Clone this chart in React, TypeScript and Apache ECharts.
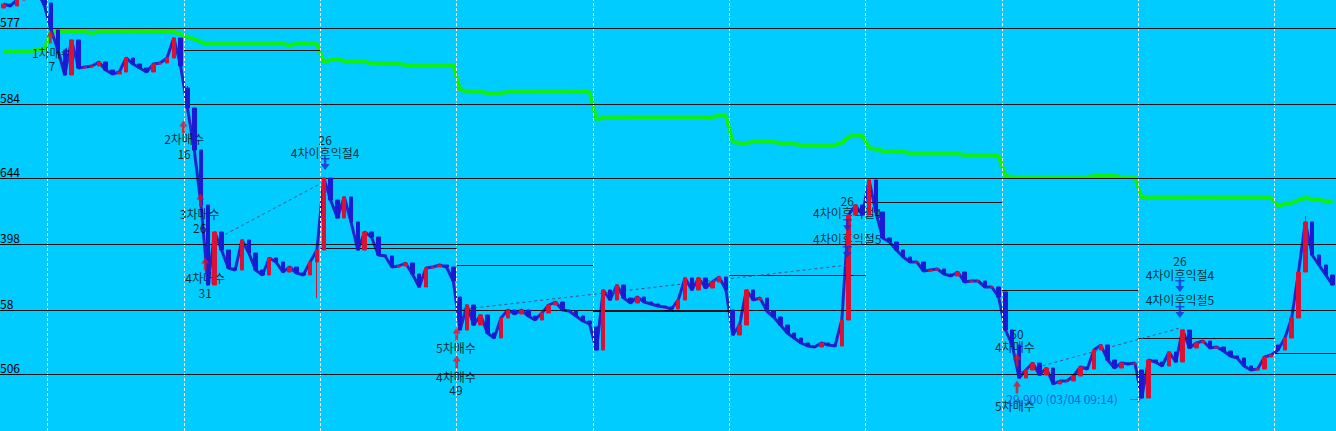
import React, { useEffect, useRef } from "react";
import * as echarts from "echarts";

// ---- price data (one bar per slot, 20 slots per day) ----
const closes = [
  // day 0 (partial)
  33840, 33820, 33880, 33980, 34000, 33960, 33830,
  // day 1
  33580, 33380, 33130, 33480, 33200, 33210, 33220, 33260, 33180, 33140, 33160, 33300, 33240, 33200, 33160, 33240, 33250, 33300, 33500, 33220,
  // day 2
  32800, 32380, 31830, 31030, 31560, 31380, 31200, 31180, 31480, 31350, 31180, 31130, 31300, 31260, 31160, 31210, 31150, 31130, 31260, 31380,
  // day 3
  32100, 31880, 31700, 31910, 31660, 31380, 31560, 31510, 31330, 31320, 31210, 31220, 31250, 31140, 31010, 31200, 31210, 31230, 31210, 31070,
  // day 4
  30580, 30830, 30630, 30730, 30550, 30500, 30700, 30780, 30740, 30780, 30720, 30680, 30750, 30830, 30860, 30780, 30770, 30720, 30670, 30640,
  // day 5
  30380, 30980, 30880, 31030, 30900, 30850, 30910, 30860, 30840, 30820, 30810, 30790, 30880, 31100, 30980, 31100, 31000, 31060, 31110, 30980,
  // day 6
  30530, 30630, 30980, 30880, 30900, 30770, 30710, 30630, 30550, 30500, 30450, 30420, 30410, 30450, 30430, 30420, 30680, 31730, 31830, 31730,
  // day 7
  32080, 31760, 31500, 31460, 31380, 31310, 31260, 31260, 31170, 31180, 31190, 31140, 31120, 31160, 31060, 31070, 31070, 31010, 31010, 30910,
  // day 8
  30580, 30430, 30100, 30180, 30250, 30130, 30200, 30040, 30070, 30070, 30120, 30210, 30190, 30380, 30430, 30280, 30200, 30250, 30240, 30250,
  // day 9
  29900, 30280, 30260, 30220, 30360, 30260, 30580, 30400, 30450, 30470, 30400, 30410, 30370, 30320, 30300, 30220, 30180, 30190, 30310, 30330,
  // day 10 (partial)
  30380, 30500, 30700, 31160, 31660, 31330, 31230, 31130, 31030,
];

const greenLine = [
  33360, 33360, 33370, 33370, 33370, 33380, 33380,
  33570, 33570, 33560, 33560, 33560, 33560, 33550, 33560, 33560, 33560, 33560, 33560, 33570, 33560, 33560, 33560, 33570, 33560, 33560, 33540,
  33510, 33490, 33460, 33440, 33450, 33450, 33440, 33440, 33450, 33440, 33440, 33440, 33440, 33440, 33440, 33430, 33440, 33440, 33440, 33440,
  33260, 33280, 33290, 33270, 33260, 33260, 33260, 33250, 33250, 33240, 33240, 33240, 33230, 33230, 33230, 33230, 33230, 33230, 33230, 33230,
  32980, 32970, 32960, 32960, 32950, 32950, 32950, 32960, 32960, 32960, 32960, 32970, 32970, 32970, 32970, 32970, 32970, 32960, 32960, 32960,
  32690, 32700, 32700, 32700, 32700, 32710, 32710, 32710, 32710, 32710, 32710, 32710, 32710, 32710, 32710, 32710, 32710, 32710, 32720, 32720,
  32460, 32450, 32450, 32460, 32460, 32460, 32460, 32450, 32440, 32440, 32430, 32430, 32430, 32430, 32430, 32430, 32450, 32510, 32530, 32530,
  32400, 32390, 32370, 32370, 32360, 32360, 32350, 32350, 32350, 32340, 32340, 32340, 32340, 32340, 32330, 32330, 32330, 32330, 32330, 32320,
  32120, 32110, 32100, 32100, 32100, 32100, 32100, 32100, 32100, 32100, 32110, 32110, 32110, 32120, 32120, 32120, 32120, 32110, 32110, 32110,
  31900, 31900, 31900, 31900, 31900, 31900, 31900, 31910, 31910, 31910, 31910, 31910, 31900, 31900, 31900, 31900, 31900, 31900, 31900, 31900,
  31820, 31840, 31850, 31880, 31900, 31890, 31880, 31870, 31860,
];

const dayStarts = [0, 7, 27, 47, 67, 87, 107, 127, 147, 167, 187];
const dayOpens = [33800, 33850, 33000, 31380, 30910, 30610, 30780, 31730, 30960, 30180, 30430];
const wickLows: [number, number][] = [[46, 30900]];
const wickHighs: [number, number][] = [[27, 33020], [191, 31720]];

const levelValues = [33600, 32840, 32100, 31440, 30780, 30140];
const levelLabels = ["577", "584", "644", "398", "58", "506"];

// per-day reference segments (day index -> level)
const segmentDays = [2, 3, 4, 5, 6, 7, 8, 9, 10];
const segmentValues = [33380, 31400, 31230, 30770, 31130, 31860, 30980, 30500, 30350];

// dashed connectors [x1, y1, x2, y2]
const connectors = [
  [31.5, 31480, 47.2, 32050],
  [67.0, 30780, 124.4, 31230],
  [149.6, 30160, 173.1, 30600],
];

const signalTexts: { x: number; y: number; t: string; blue?: boolean }[] = [
  { x: 7.6, y: 33360, t: "1차매수" }, { x: 7.6, y: 33230, t: "7" },
  { x: 27.0, y: 32500, t: "2차매수" }, { x: 27.0, y: 32350, t: "16" },
  { x: 29.3, y: 31750, t: "3차매수" }, { x: 29.3, y: 31610, t: "26" },
  { x: 30.1, y: 31110, t: "4차매수" }, { x: 30.1, y: 30960, t: "31" },
  { x: 47.7, y: 32490, t: "26" }, { x: 47.7, y: 32360, t: "4차이후익절4" },
  { x: 66.9, y: 30410, t: "5차매수" }, { x: 66.9, y: 30120, t: "4차매수" }, { x: 66.9, y: 29990, t: "49" },
  { x: 124.3, y: 31880, t: "26" }, { x: 124.3, y: 31760, t: "4차이후익절4" }, { x: 124.3, y: 31500, t: "4차이후익절5" },
  { x: 149.2, y: 30550, t: "50" }, { x: 148.9, y: 30420, t: "4차매수" }, { x: 148.9, y: 29830, t: "5차매수" },
  { x: 155.8, y: 29900, t: "29,900 (03/04 09:14)", blue: true }, { x: 166.6, y: 29885, t: "→", blue: true },
  { x: 173.1, y: 31280, t: "26" }, { x: 173.1, y: 31140, t: "4차이후익절4" }, { x: 173.1, y: 30890, t: "4차이후익절5" },
];

const buyArrows = [
  [7.4, 33510], [26.9, 32610], [29.4, 31880], [30.1, 31240],
  [67.0, 30540], [67.0, 30260], [149.2, 30280], [149.2, 30010],
];
const sellArrows = [
  [47.7, 32240], [124.3, 31630], [124.3, 31360], [173.1, 31020], [173.1, 30760],
];

const UP_ARROW = "path://M3.5,0 L7,5 L4.7,5 L4.7,11 L2.3,11 L2.3,5 L0,5 Z";
const DOWN_ARROW = "path://M0,0 L9,0 L9,1.6 L0,1.6 Z M3.3,1.6 L5.7,1.6 L5.7,6 L9,6 L4.5,12 L0,6 L3.3,6 Z";
const FONT = "'Noto Sans CJK KR', 'Noto Sans', sans-serif";

export default function App() {
  const ref = useRef<HTMLDivElement>(null);
  useEffect(() => {
    document.body.style.margin = "0";
    if (!ref.current) return;
    const chart = echarts.init(ref.current, undefined, { renderer: "svg" });
    const total = closes.length;
    const cats = closes.map((_, i) => String(i));
    const candles = closes.map((c, i) => {
      const d = dayStarts.indexOf(i);
      const o = d >= 0 ? dayOpens[d] : closes[i - 1];
      let lo = Math.min(o, c);
      let hi = Math.max(o, c);
      wickLows.forEach(([b, v]) => { if (b === i) lo = Math.min(lo, v); });
      wickHighs.forEach(([b, v]) => { if (b === i) hi = Math.max(hi, v); });
      return [o, c, lo, hi];
    });

    const dayLines = dayStarts.slice(1).map((s) => ({
      xAxis: s,
      lineStyle: { color: "#ffffff", width: 1, type: [3, 2] },
      label: { show: false },
    }));
    const levels = levelValues.map((v, i) => ({
      yAxis: v,
      lineStyle: { color: "#101018", width: 1, type: "solid" },
      label: {
        show: true,
        formatter: levelLabels[i],
        position: "insideStartTop",
        distance: [0, 1],
        color: "#000000",
        fontSize: 12,
        fontFamily: FONT,
      },
    }));
    const segments = segmentDays.map((d, i) => {
      const x1 = dayStarts[d];
      const x2 = d + 1 < dayStarts.length ? dayStarts[d + 1] : total;
      return [
        { coord: [x1, segmentValues[i]], lineStyle: { color: "#101018", width: 1, type: "solid" }, label: { show: false } },
        { coord: [x2, segmentValues[i]] },
      ];
    });
    const conns = connectors.map(([a, b, c, d]) => [
      { coord: [a, b], lineStyle: { color: "#4b4b8c", width: 1, type: [3, 3] }, label: { show: false } },
      { coord: [c, d] },
    ]);

    chart.setOption({
      animation: false,
      backgroundColor: "#00ccff",
      grid: { left: 0, right: 0, top: 0, bottom: 0 },
      xAxis: [
        { type: "category", data: cats, show: false, boundaryGap: true },
        { type: "value", min: 0, max: total, show: false },
      ],
      yAxis: { type: "value", min: 29570, max: 33880, show: false, splitLine: { show: false } },
      series: [
        {
          type: "line",
          xAxisIndex: 1,
          data: [],
          silent: true,
          z: 0,
          markLine: {
            silent: true,
            symbol: ["none", "none"],
            label: { show: false },
            data: [...dayLines, ...levels, ...segments, ...conns],
          },
        },
        {
          type: "line",
          data: greenLine,
          showSymbol: false,
          z: 2,
          lineStyle: { color: "#11ee11", width: 4 },
        },
        {
          type: "line",
          data: closes,
          showSymbol: false,
          z: 3,
          lineStyle: { color: "#2424c8", width: 3 },
        },
        {
          type: "scatter",
          xAxisIndex: 1,
          z: 4,
          symbolSize: 1,
          itemStyle: { color: "rgba(0,0,0,0)" },
          data: signalTexts.map((s) => ({
            value: [s.x, s.y],
            name: s.t,
            label: { color: s.blue ? "#1f3fd0" : "#000000" },
          })),
          label: {
            show: true,
            position: "inside",
            formatter: "{b}",
            fontSize: 12,
            fontFamily: FONT,
            color: "#000000",
          },
        },
        {
          type: "candlestick",
          data: candles,
          barWidth: 4,
          z: 5,
          itemStyle: {
            color: "#dc1034",
            color0: "#1a1ad4",
            borderColor: "#dc1034",
            borderColor0: "#1a1ad4",
            borderWidth: 1,
          },
        },
        {
          type: "scatter",
          xAxisIndex: 1,
          z: 6,
          symbol: UP_ARROW,
          symbolSize: [8, 13],
          itemStyle: { color: "#e0102a" },
          data: buyArrows,
        },
        {
          type: "scatter",
          xAxisIndex: 1,
          z: 6,
          symbol: DOWN_ARROW,
          symbolSize: [9, 12],
          itemStyle: { color: "#1a2ad8" },
          data: sellArrows,
        },
      ],
    });
    return () => chart.dispose();
  }, []);
  return <div ref={ref} style={{ width: 1336, height: 431 }} />;
}
